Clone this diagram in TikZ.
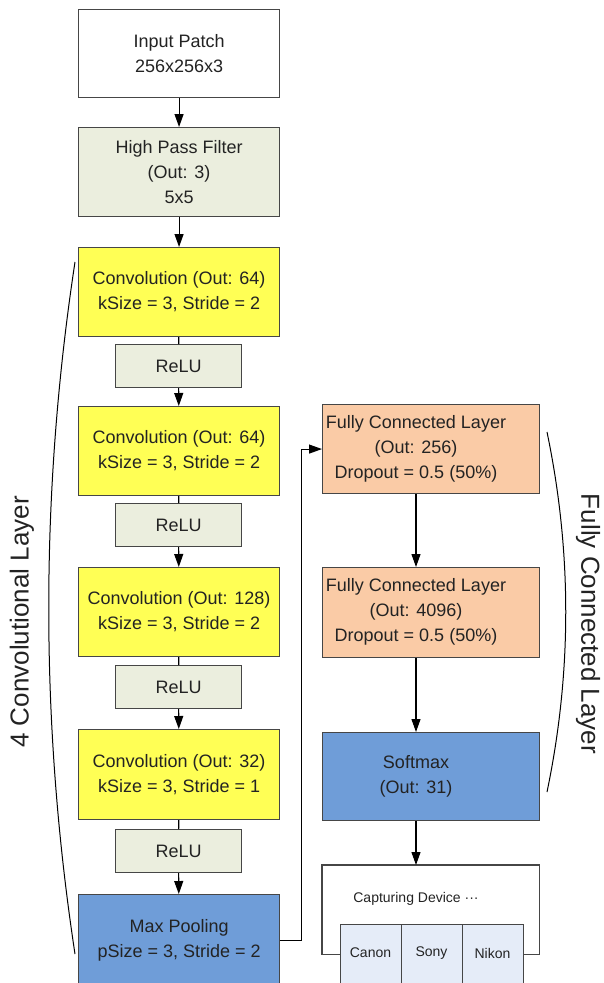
\documentclass[tikz,border=0pt]{standalone}
\usepackage{fontspec}
\setmainfont{Liberation Sans}
\usetikzlibrary{arrows.meta,calc}
\definecolor{hpfc}{RGB}{235,238,222}
\definecolor{convc}{RGB}{255,255,85}
\definecolor{fcc}{RGB}{250,203,166}
\definecolor{blu}{RGB}{111,157,216}
\definecolor{inb}{RGB}{229,236,248}
\definecolor{edge}{RGB}{70,70,70}
\definecolor{txt}{RGB}{35,35,35}
\begin{document}
\begin{tikzpicture}[x=1pt,y=-1pt,
  box/.style={draw=edge, line width=1.1pt, inner sep=0pt, align=center, anchor=north west,
    text=txt, font=\fontsize{18}{25}\selectfont},
  bigbox/.style={box, minimum width=201pt},
  rbox/.style={box, minimum width=217pt},
  relubox/.style={box, fill=hpfc, minimum width=126pt, minimum height=43pt},
  convbox/.style={bigbox, fill=convc, minimum height=89pt},
  inbox/.style={draw=edge, line width=1.1pt, fill=inb, minimum width=61pt, minimum height=80pt, anchor=north west, inner sep=0pt},
  lbl/.style={align=center, text=txt, font=\fontsize{18}{25}\selectfont, inner sep=0pt},
  smalllbl/.style={text=txt, font=\fontsize{14}{16}\selectfont, inner sep=0pt},
  ln/.style={draw=black, line width=1.1pt},
  arr/.style={ln, -{Triangle[length=13pt,width=9pt]}},
  brace/.style={draw=black, line width=1pt},
  sidelbl/.style={text=txt, font=\fontsize{26}{26}\selectfont, inner sep=0pt}
]
\useasboundingbox (0,0) rectangle (604,983);

% left column
\node[bigbox, fill=white, minimum height=88pt] (input) at (78,9) {Input Patch\\256x256x3};
\node[bigbox, fill=hpfc, minimum height=89pt] (hpf) at (78,127) {High Pass Filter\\(Out: 3)\\5x5};
\node[convbox] (conv1) at (78,247) {Convolution (Out: 64)\\kSize = 3, Stride = 2};
\node[relubox] (relu1) at (115,344) {ReLU};
\node[convbox] (conv2) at (78,406) {Convolution (Out: 64)\\kSize = 3, Stride = 2};
\node[relubox] (relu2) at (115,503) {ReLU};
\node[convbox] (conv3) at (78,567) {Convolution (Out: 128)\\kSize = 3, Stride = 2};
\node[relubox] (relu3) at (115,665) {ReLU};
\node[convbox, minimum height=90pt] (conv4) at (78,729) {Convolution (Out: 32)\\kSize = 3, Stride = 1};
\node[relubox] (relu4) at (115,829) {ReLU};
\node[bigbox, fill=blu, minimum height=92pt] (maxpool) at (78,894) {Max Pooling\\pSize = 3, Stride = 2};

\draw[arr] (input) -- (hpf);
\draw[arr] (hpf) -- (conv1);
\draw[ln] (conv1) -- (relu1);
\draw[arr] (relu1) -- (conv2);
\draw[ln] (conv2) -- (relu2);
\draw[arr] (relu2) -- (conv3);
\draw[ln] (conv3) -- (relu3);
\draw[arr] (relu3) -- (conv4);
\draw[ln] (conv4) -- (relu4);
\draw[arr] (relu4) -- (maxpool);

% right column
\node[rbox, fill=fcc, minimum height=89pt] (fc1) at (322,404) {};
\node[lbl] (fc1t) at (416,448.5) {Fully Connected Layer\\(Out: 256)\\Dropout = 0.5 (50\%)};
\node[rbox, fill=fcc, minimum height=90pt] (fc2) at (322,567) {};
\node[lbl] (fc2t) at (416,612) {Fully Connected Layer\\(Out: 4096)\\Dropout = 0.5 (50\%)};
\node[rbox, fill=blu, minimum height=88pt] (softmax) at (322,732) {};
\node[lbl] (smt) at (416,776) {Softmax\\(Out: 31)};

\node[minimum width=217pt, minimum height=89pt, anchor=north west, inner sep=0pt] (cap) at (322,865) {};
\node[smalllbl] (capt) at (416,899) {Capturing Device ···};
\node[inbox] (canon) at (340,924) {};
\node[inbox] (sony) at (401,924) {};
\node[inbox] (nikon) at (462,924) {};
\node[smalllbl] (canont) at (370.5,953) {Canon};
\node[smalllbl] (sonyt) at (431.5,953) {Sony};
\node[smalllbl] (nikont) at (492.5,953) {Nikon};
\draw[draw=edge, line width=1.1pt] (canon.west |- cap.south) -- (cap.south west) -- (cap.north west) -- (cap.north east) -- (cap.south east) -- (nikon.east |- cap.south);

\draw[arr] (maxpool.east) -- ++(21,0) |- (fc1.west);
\draw[arr] (fc1.south -| fc1t) -- (fc2.north -| fc1t);
\draw[arr] (fc2.south -| fc2t) -- (softmax.north -| fc2t);
\draw[arr] (softmax.south -| smt) -- (cap.north -| smt);

% braces
\coordinate (lbtop) at (75,262);
\coordinate (lbbot) at (75,954);
\draw[brace] (lbtop) .. controls (40,492) and (40,724) .. (lbbot);
\coordinate (rbtop) at (547,432);
\coordinate (rbbot) at (547,792);
\draw[brace] (rbtop) .. controls (572,552) and (572,672) .. (rbbot);
\node[sidelbl, rotate=90] (convlabel) at (22,622) {4 Convolutional Layer};
\node[sidelbl, rotate=-90] (fclabel) at (588,624) {Fully Connected Layer};
\end{tikzpicture}
\end{document}
